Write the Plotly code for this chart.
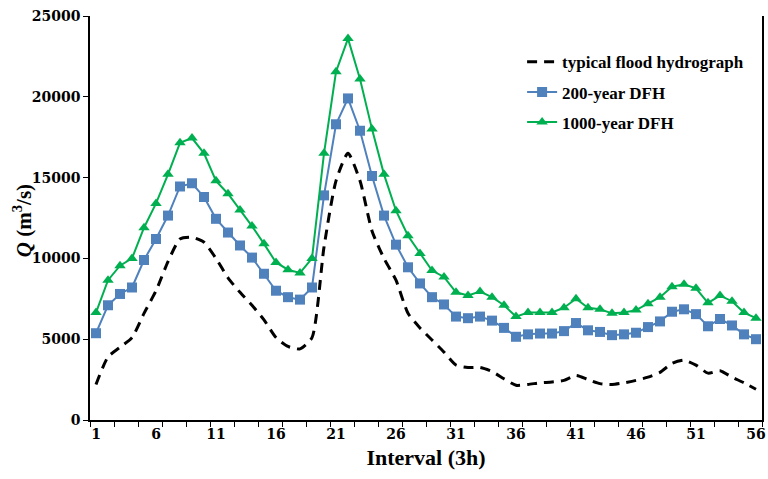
import plotly.graph_objects as go

intervals = list(range(1, 57))

typical = [2200, 3900, 4500, 5100, 6600, 8000, 9800, 11200, 11300, 11000,
           10000, 8800, 7900, 7100, 6200, 5100, 4550, 4400, 5100, 10700,
           14800, 16500, 14800, 11700, 10000, 8650, 6600, 5700, 4950, 4200,
           3400, 3250, 3250, 3000, 2550, 2150, 2200, 2300, 2350, 2450,
           2750, 2500, 2250, 2200, 2300, 2450, 2650, 2950, 3500, 3700,
           3400, 2900, 3050, 2650, 2300, 1900]

dfh200 = [5370, 7100, 7800, 8200, 9900, 11200, 12650, 14450, 14650, 13800,
          12450, 11600, 10800, 10050, 9050, 8000, 7600, 7450, 8200, 13900,
          18300, 19900, 17900, 15100, 12650, 10850, 9450, 8450, 7600, 7150,
          6400, 6300, 6400, 6150, 5700, 5150, 5300, 5350, 5350, 5500,
          6000, 5550, 5450, 5250, 5300, 5400, 5750, 6100, 6700, 6850,
          6550, 5800, 6250, 5850, 5300, 5000]

dfh1000 = [6650, 8650, 9550, 10000, 11900, 13400, 15200, 17150, 17450, 16500,
           14800, 14000, 13000, 12000, 10900, 9750, 9300, 9100, 10000, 16500,
           21550, 23600, 21100, 18000, 15200, 12950, 11400, 10300, 9250, 8850,
           7900, 7700, 7950, 7600, 7100, 6400, 6650, 6650, 6650, 6950,
           7500, 6950, 6850, 6600, 6650, 6800, 7200, 7600, 8250, 8400,
           8150, 7250, 7700, 7350, 6650, 6300]

x_labels = [1, 6, 11, 16, 21, 26, 31, 36, 41, 46, 51, 56]
x_minor = [0.5 + 2 * k for k in range(29)]

FONT = "Liberation Serif"
TICKFONT = "DejaVu Serif"

fig = go.Figure()
fig.add_trace(go.Scatter(
    x=intervals, y=typical, mode="lines", name="typical flood hydrograph",
    line=dict(color="black", width=3, dash="10px,7px", shape="spline", smoothing=0.6),
    legendgroup="a"))
fig.add_trace(go.Scatter(
    x=intervals, y=dfh200, mode="lines+markers", name="200-year DFH",
    line=dict(color="#4F81BD", width=2),
    marker=dict(symbol="square", size=10, color="#4F81BD"),
    legendgroup="b"))
fig.add_trace(go.Scatter(
    x=intervals, y=dfh1000, mode="lines+markers", name="1000-year DFH",
    line=dict(color="#00B050", width=2),
    marker=dict(symbol="triangle-up", size=10, color="#00B050"),
    legendgroup="c"))

fig.update_layout(
    width=768, height=479,
    margin=dict(l=90, r=6, t=16, b=59, autoexpand=False),
    paper_bgcolor="white", plot_bgcolor="white",
    font=dict(family=FONT, size=19, color="black"),
    showlegend=True,
    legend=dict(x=0.643, y=0.93, xanchor="left", yanchor="top",
                font=dict(family=FONT, size=17, color="black", weight="bold"),
                bgcolor="rgba(0,0,0,0)", tracegroupgap=5, traceorder="grouped"),
    xaxis=dict(
        range=[0.5, 56.5], showgrid=False, zeroline=False, automargin=False,
        ticklabeloverflow="allow",
        showline=True, linecolor="black", linewidth=1.5,
        tickmode="array", tickvals=x_labels, ticktext=[str(v) for v in x_labels],
        ticks="", tickfont=dict(family=TICKFONT, size=14, weight="bold"),
        minor=dict(tickmode="array", tickvals=x_minor, ticks="outside",
                   ticklen=5, tickcolor="black", tickwidth=1.2, showgrid=False),
        title=dict(text="Interval (3h)", font=dict(family=FONT, size=22, weight="bold"),
                   standoff=9),
    ),
    yaxis=dict(
        range=[0, 25000], dtick=5000, tickformat="d", showgrid=False, zeroline=False,
        automargin=False, ticklabeloverflow="allow",
        showline=True, linecolor="black", linewidth=1.5, mirror=True,
        ticks="outside", ticklen=5, tickcolor="black", tickwidth=1.2,
        tickfont=dict(family=TICKFONT, size=14, weight="bold"),
    ),
    annotations=[dict(
        text="<b><i>Q</i> (m<sup>3</sup>/s)</b>", textangle=-90,
        xref="paper", yref="paper", x=-0.1, y=0.494,
        xanchor="center", yanchor="middle", showarrow=False,
        font=dict(family=FONT, size=21, color="black"))],
)

# remove the page's default 8px body margin so the 768x479 figure fills the window
fig.write_html("out.html",
               config={"displayModeBar": False},
               post_script="document.body.style.margin='0px';document.body.style.overflow='hidden';")
